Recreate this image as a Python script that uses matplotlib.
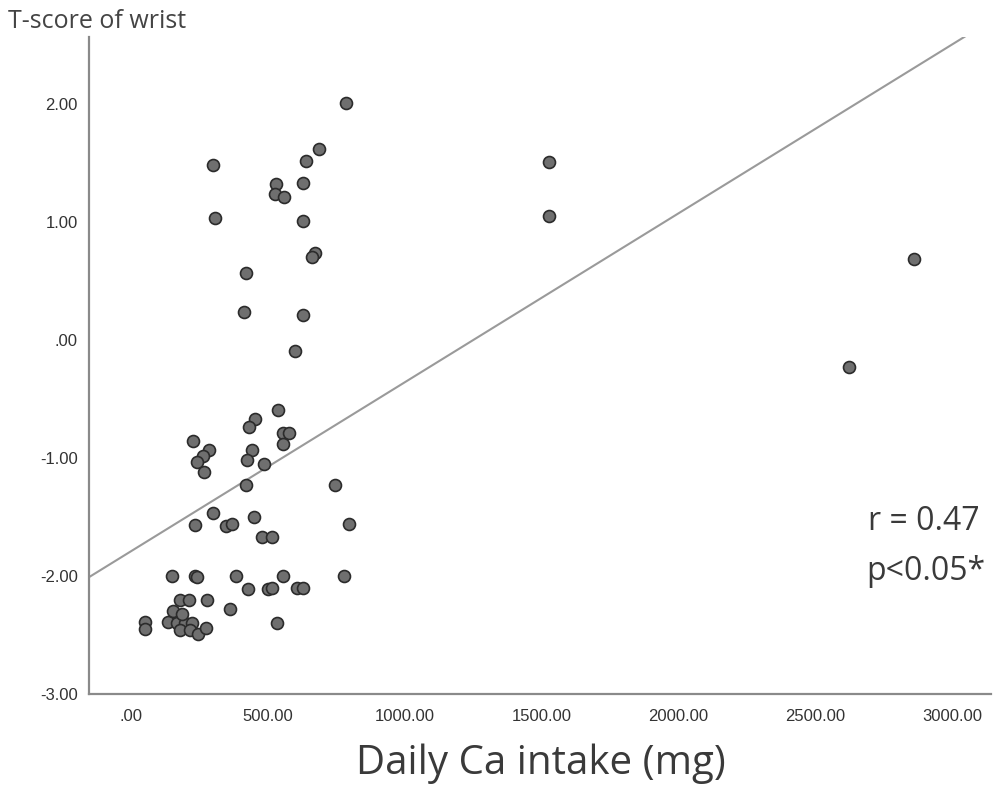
import matplotlib
matplotlib.use("Agg")
import matplotlib.pyplot as plt
from matplotlib.ticker import FuncFormatter

# ---- data ----
ca_intake = [51, 51, 136, 167, 197, 225, 179, 215, 246, 276, 154, 185, 181, 213, 279, 361,
             149, 234, 240, 383, 428, 501, 517, 605, 629, 554, 777, 532,
             538, 453, 432, 556, 577, 554, 227, 285, 264, 242, 266, 444, 425, 488, 420, 747,
             300, 234, 349, 368, 449, 479, 517, 796,
             787, 687, 641, 300, 529, 528, 560, 629, 309, 627, 672, 663, 420, 414, 629, 601,
             1526, 1526, 2859, 2624]
t_score = [-2.39, -2.45, -2.39, -2.40, -2.40, -2.40, -2.46, -2.46, -2.49, -2.44, -2.30, -2.32,
           -2.20, -2.20, -2.20, -2.28, -2.00, -2.00, -2.01, -2.00, -2.11, -2.11, -2.10, -2.10,
           -2.10, -2.00, -2.00, -2.40,
           -0.59, -0.67, -0.74, -0.79, -0.79, -0.88, -0.86, -0.93, -0.98, -1.03, -1.12, -0.93,
           -1.02, -1.05, -1.23, -1.23, -1.47, -1.57, -1.58, -1.56, -1.50, -1.67, -1.67, -1.56,
           2.01, 1.62, 1.52, 1.48, 1.32, 1.24, 1.21, 1.33, 1.03, 1.01, 0.74, 0.70, 0.57, 0.24,
           0.21, -0.09,
           1.51, 1.05, 0.69, -0.23]
fit_intercept = -1.791
fit_slope = 0.001432
fit_x_range = [-150, 3050]
x_ticks = [0, 500, 1000, 1500, 2000, 2500, 3000]
y_ticks = [-3, -2, -1, 0, 1, 2]
x_label = "Daily Ca intake (mg)"
y_label = "T-score of wrist"
annotations = ["r = 0.47", "p<0.05*"]


def spss_fmt(v, pos=None):
    s = "%.2f" % v
    if s.startswith("0."):
        s = s[1:]
    elif s.startswith("-0."):
        s = "-" + s[2:]
    return s


fig = plt.figure(figsize=(9.93, 7.89), dpi=100)
ax = fig.add_axes([0.0896, 0.1204, 0.908, 0.8331])

fit_y = [fit_intercept + fit_slope * x for x in fit_x_range]
ax.plot(fit_x_range, fit_y, color="#9a9a9a", lw=1.5, zorder=1)
ax.scatter(ca_intake, t_score, s=74, facecolor="#6f6f6f", edgecolor="#2b2b2b",
           linewidths=1.2, zorder=3)

ax.set_xlim(-153, 3140)
ax.set_ylim(-3.0, 2.57)
ax.set_xticks(x_ticks)
ax.set_yticks(y_ticks)
ax.xaxis.set_major_formatter(FuncFormatter(spss_fmt))
ax.yaxis.set_major_formatter(FuncFormatter(spss_fmt))
ax.tick_params(axis="both", length=0, labelsize=12, labelcolor="#333333")
ax.tick_params(axis="x", pad=11)
ax.tick_params(axis="y", pad=8)
for lab in ax.get_xticklabels() + ax.get_yticklabels():
    lab.set_family("Liberation Sans")

for side in ["top", "right"]:
    ax.spines[side].set_visible(False)
for side in ["left", "bottom"]:
    ax.spines[side].set_color("#8a8a8a")
    ax.spines[side].set_linewidth(1.6)

fig.text(8 / 993, 1 - 22 / 789, y_label, ha="left", va="center",
         fontsize=18, color="#444444", family="Open Sans")
fig.text(541 / 993, 1 - 764 / 789, x_label, ha="center", va="center",
         fontsize=29, color="#3a3a3a", family="Open Sans")
fig.text(868 / 993, 1 - 521 / 789, annotations[0], ha="left", va="center",
         fontsize=23, color="#3a3a3a", family="Open Sans")
fig.text(866 / 993, 1 - 571 / 789, annotations[1], ha="left", va="center",
         fontsize=23, color="#3a3a3a", family="Open Sans")

fig.savefig("out.png", dpi=100, facecolor="white")
